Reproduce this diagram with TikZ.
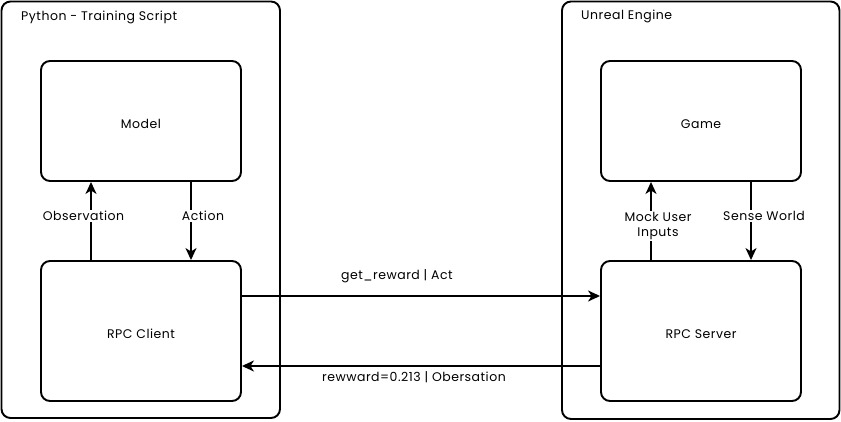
\documentclass[tikz,border=0pt]{standalone}
\usepackage{fontspec}
\setmainfont{Poppins}[LetterSpace=4]
\usetikzlibrary{arrows.meta}
\begin{document}
\begin{tikzpicture}[x=1pt,y=-1pt,
  box/.style={draw, line width=1.9pt, rounded corners=9pt},
  lbl/.style={font=\fontsize{12.5}{16}\selectfont, fill=white, inner sep=1pt, align=center},
  arr/.style={line width=1.9pt, -{Stealth[length=12pt,width=11pt,inset=3.5pt]}},
  txt/.style={font=\fontsize{12.5}{16}\selectfont}]
\useasboundingbox (0,0) rectangle (841,422);
\draw[box] (1.5,1.5) rectangle (280,418);
\draw[box] (562,1.5) rectangle (839.5,419);
\node[txt, anchor=west, inner sep=0pt] (t1) at (21,17) {Python - Training Script};
\node[txt, anchor=west, inner sep=0pt] (t2) at (581,16) {Unreal Engine};
\node[box, minimum width=200pt, minimum height=120pt] (model) at (141,121) {};
\node[box, minimum width=200pt, minimum height=140pt] (client) at (141,331) {};
\node[box, minimum width=200pt, minimum height=120pt] (game) at (701,121) {};
\node[box, minimum width=200pt, minimum height=140pt] (server) at (701,331) {};
\node[txt] (mt) at (141,124) {Model};
\node[txt] (ct) at (141,334) {RPC Client};
\node[txt] (gt) at (701,124) {Game};
\node[txt] (st) at (701,334) {RPC Server};
\draw[arr] (client.north -| 91,0) -- (model.south -| 91,0);
\draw[arr] (model.south -| 191,0) -- (client.north -| 191,0);
\draw[arr] (server.north -| 651,0) -- (game.south -| 651,0);
\draw[arr] (game.south -| 751,0) -- (server.north -| 751,0);
\node[lbl] (l1) at (83.5,216) {Observation};
\node[lbl] (l2) at (203,216) {Action};
\node[lbl] (l3) at (658,226) {Mock User\\Inputs};
\node[lbl] (l4) at (764,216) {Sense World};
\draw[arr] (client.east |- 0,296) -- (server.west |- 0,296);
\draw[arr] (server.west |- 0,366) -- (client.east |- 0,366);
\node[txt] (l5) at (397,276) {get\_reward | Act};
\node[txt] (l6) at (414,377) {rewward=0.213 | Obersation};
\end{tikzpicture}
\end{document}
